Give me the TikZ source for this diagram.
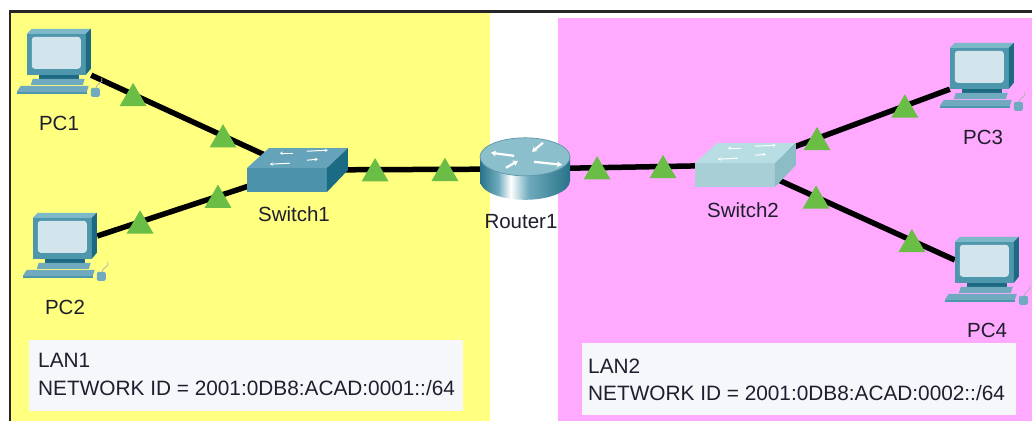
\documentclass[tikz,border=0pt]{standalone}
\usepackage{fontspec}
\setmainfont{Liberation Sans}
\usetikzlibrary{shapes.geometric,arrows.meta}

\definecolor{lanyellow}{RGB}{255,255,128}
\definecolor{lanpink}{RGB}{255,170,255}
\definecolor{boxfill}{RGB}{246,247,251}
\definecolor{tri}{RGB}{106,189,69}
\definecolor{txt}{RGB}{30,30,45}
\definecolor{pcfront}{RGB}{78,150,172}
\definecolor{pctop}{RGB}{125,184,200}
\definecolor{pcside}{RGB}{28,105,130}
\definecolor{pcscreen}{RGB}{210,229,237}
\definecolor{pclight}{RGB}{112,170,190}
\definecolor{swAtop}{RGB}{100,163,185}
\definecolor{swAfront}{RGB}{75,146,170}
\definecolor{swAside}{RGB}{28,107,132}
\definecolor{swBtop}{RGB}{184,221,227}
\definecolor{swBfront}{RGB}{168,207,214}
\definecolor{swBside}{RGB}{140,188,198}
\definecolor{rtop}{RGB}{140,191,204}
\definecolor{rtopedge}{RGB}{95,150,168}
\definecolor{rdark}{RGB}{40,115,138}
\definecolor{rmid}{RGB}{110,170,188}

\pgfdeclarehorizontalshading{routerside}{100bp}{color(0bp)=(rdark); color(25bp)=(rdark); color(35bp)=(rmid); color(42bp)=(white); color(52bp)=(rmid); color(75bp)=(rdark); color(100bp)=(rdark)}

\tikzset{
  link/.style={line width=5.5pt, black},
  tri/.style={regular polygon, regular polygon sides=3, minimum size=31pt, inner sep=0pt, fill=tri, draw=none, yshift=-3.9pt},
  dev/.style={rectangle, inner sep=0pt, draw=none},
  lbl/.style={inner sep=0pt, text=txt, font=\fontsize{20.5pt}{24pt}\selectfont},
  boxtxt/.style={inner sep=0pt, text=txt, font=\fontsize{20.8pt}{24pt}\selectfont},
  lanbox/.style={rectangle, inner sep=0pt, fill=boxfill, draw=none},
  swarr/.style={white, line width=1pt, -{Stealth[length=3pt,width=3.5pt]}},
  rarr/.style={white, line width=2.2pt, -{Stealth[length=5pt,width=6pt]}},
  pics/pcicon/.style={code={
    \fill[pclight] (-6,57) -- (62,57) -- (60,63) -- (-10,63) -- cycle;
    \fill[pcfront] (-10,63) rectangle (60,65);
    \draw[gray!60, line width=0.8pt] (69,60) .. controls (70,53) and (77,55) .. (75,49);
    \fill[pclight, rounded corners=1.5pt] (64,59) rectangle (73,68);
    \fill[pcside] (12,46) rectangle (52,50);
    \fill[pclight] (6,50) -- (58,50) -- (56,56) -- (4,56) -- cycle;
    \fill[pcfront] (0,5) rectangle (59,46);
    \fill[pctop] (0,5) -- (5,0) -- (64,0) -- (59,5) -- cycle;
    \fill[pcside] (59,5) -- (64,0) -- (64,40) -- (59,46) -- cycle;
    \fill[pcscreen, rounded corners=3pt] (5,8) rectangle (54,40);
  }},
  pics/switchicon/.style={code={
    \fill[sw#1front] (0,0) rectangle (80,-24);
    \fill[sw#1top] (0,-24) -- (80,-24) -- (101,-44) -- (22,-44) -- cycle;
    \fill[sw#1side] (80,-24) -- (101,-44) -- (101,-22) -- (80,0) -- cycle;
    \draw[swarr] (46,-39) -- (33,-39);
    \draw[swarr] (60,-41) -- (81,-42);
    \draw[swarr] (43,-29) -- (23,-28);
    \draw[swarr] (60,-32) -- (71,-33);
  }},
  pics/routericon/.style={code={
    \shade[shading=routerside] (0,24) ellipse [x radius=45, y radius=19];
    \shade[shading=routerside] (-45,0) rectangle (45,24);
    \fill[rtop] (0,0) ellipse [x radius=45, y radius=19];
    \draw[rtopedge, line width=0.7pt] (0,0) ellipse [x radius=45, y radius=19];
    \draw[rarr] (-11,-1) -- (-34,-4);
    \draw[rarr] (18,-14) -- (7,-5);
    \draw[rarr] (-19,11) -- (-7,4);
    \draw[rarr] (9,5) -- (37,8);
  }}
}

\begin{document}
\begin{tikzpicture}[x=1pt, y=-1pt]
\useasboundingbox (0,0) rectangle (1032,421);
\fill[white] (0,0) rectangle (1032,421);
\fill[lanyellow] (11,13) rectangle (490,421);
\fill[lanpink] (558,18) rectangle (1032,421);
\draw[line width=2.2pt, black!85] (1032,11.5) -- (9.7,11.5) -- (9.7,421);

% address boxes
\node[lanbox, anchor=north west, minimum width=434pt, minimum height=71pt] (lan1) at (29,340) {};
\node[lanbox, anchor=north west, minimum width=434pt, minimum height=72pt] (lan2) at (582,343) {};
\node[boxtxt, anchor=base west] (lan1a) at (38,367.5) {LAN1};
\node[boxtxt, anchor=base west] (lan1b) at (38,395) {NETWORK ID = 2001:0DB8:ACAD:0001::/64};
\node[boxtxt, anchor=base west] (lan2a) at (588,373) {LAN2};
\node[boxtxt, anchor=base west] (lan2b) at (588,400) {NETWORK ID = 2001:0DB8:ACAD:0002::/64};

% device placeholders
\node[dev, minimum width=64pt, minimum height=46pt] (pc1) at (59,52) {};
\node[dev, minimum width=64pt, minimum height=46pt] (pc2) at (65,236) {};
\node[dev, minimum width=64pt, minimum height=46pt] (pc3) at (982,66) {};
\node[dev, minimum width=64pt, minimum height=46pt] (pc4) at (987,260) {};
\node[dev, minimum width=101pt, minimum height=44pt] (sw1) at (297.5,170) {};
\node[dev, minimum width=101pt, minimum height=44pt] (sw2) at (745.5,165) {};
\node[dev, minimum width=90pt, minimum height=62pt] (router) at (525,169) {};

% links
\draw[link] (pc1.south east) -- (sw1.center) node[tri,pos=0.203] (t1a) {} node[tri,pos=0.639] (t1b) {};
\draw[link] (pc2.east) -- (sw1.center) node[tri,pos=0.214] (t2a) {} node[tri,pos=0.603] (t2b) {};
\draw[link] (sw1.center) -- (router.center) node[tri,pos=0.341] (t3a) {} node[tri,pos=0.648] (t3b) {};
\draw[link] (router.center) -- (sw2.center) node[tri,pos=0.327] (t4a) {} node[tri,pos=0.626] (t4b) {};
\draw[link] (sw2.center) -- (pc3.south west) node[tri,pos=0.35] (t5a) {} node[tri,pos=0.78] (t5b) {};
\draw[link] (sw2.center) -- (pc4.west) node[tri,pos=0.337] (t6a) {} node[tri,pos=0.795] (t6b) {};

% icons
\pic at (pc1.north west) {pcicon};
\pic at (pc2.north west) {pcicon};
\pic at (pc3.north west) {pcicon};
\pic at (pc4.north west) {pcicon};
\pic at (sw1.south west) {switchicon=A};
\pic at (sw2.south west) {switchicon=B};
\pic at ([yshift=-19pt]router.north) {routericon};

% labels
\node[lbl] (pc1l) at (59,123) {PC1};
\node[lbl] (pc2l) at (65,307) {PC2};
\node[lbl] (pc3l) at (983,137) {PC3};
\node[lbl] (pc4l) at (987,330) {PC4};
\node[lbl] (sw1l) at (294,214) {Switch1};
\node[lbl] (sw2l) at (743,210) {Switch2};
\node[lbl] (routerl) at (521,222) {Router1};
\end{tikzpicture}
\end{document}
